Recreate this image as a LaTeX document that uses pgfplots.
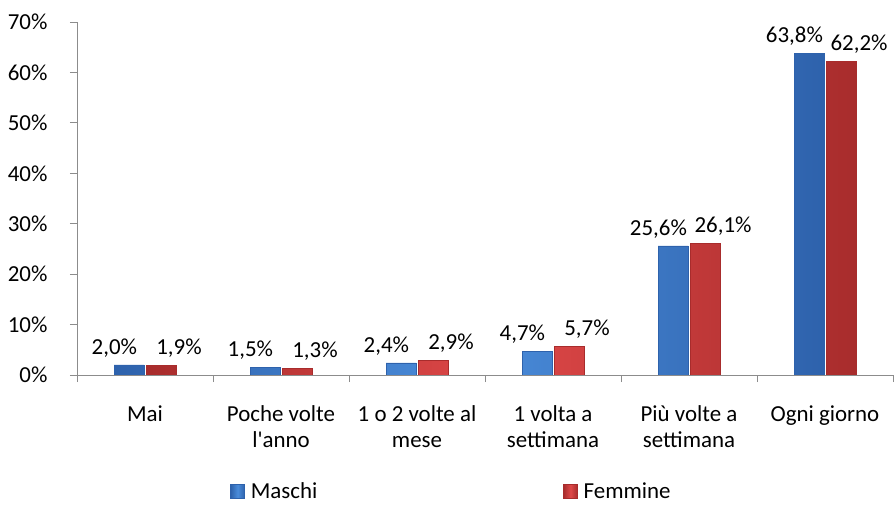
\documentclass[border=0pt]{standalone}
\usepackage{pgfplots}
\usepackage{pgfplotstable}
\pgfplotsset{compat=1.18}
\usepackage{fontspec}
\setmainfont{Carlito}[Ligatures=TeXOff]
\definecolor{bluD}{HTML}{2E62AC}
\definecolor{bluM}{HTML}{4A8CDA}
\definecolor{redD}{HTML}{A82C2C}
\definecolor{redM}{HTML}{DE4848}
\definecolor{axgray}{HTML}{8C8C8C}
\pgfplotsset{/pgf/number format/assume math mode=true}
\pgfplotstableread{
x y
0 2.0
1 1.5
2 2.4
3 4.7
4 25.6
5 63.8
}\maschi
\pgfplotstableread{
x y
0 1.9
1 1.3
2 2.9
3 5.7
4 26.1
5 62.2
}\femmine
\begin{document}
\begin{tikzpicture}[font=\fontsize{23}{27}\selectfont]
\useasboundingbox (0,0) rectangle (894bp,507bp);
\begin{axis}[
  at={(77bp,132bp)}, anchor=south west,
  scale only axis, width=816bp, height=353bp,
  ymin=0, ymax=70, ytick={0,10,...,70},
  xmin=-0.5, xmax=5.5,
  axis lines*=left,
  axis line style={axgray, line width=0.9pt},
  tick style={axgray, line width=0.9pt},
  tick align=outside,
  major tick length=7bp, minor tick length=7bp,
  yticklabel={\pgfmathprintnumber{\tick}\%},
  yticklabel style={xshift=-19bp, font=\fontsize{23}{27}\selectfont},
  xtick={0,...,5},
  xticklabels={Mai,{Poche volte\\l'anno},{1 o 2 volte al\\mese},{1 volta a\\settimana},{Più volte a\\settimana},Ogni giorno},
  xticklabel style={align=center, anchor=north, yshift=-20bp, font=\fontsize{23}{26}\selectfont},
  major x tick style={draw=none},
  minor xtick={-0.5,0.5,...,5.5},
  bar width=30bp,
  legend style={at={(0.459,-0.329)}, anchor=center, draw=none, fill=none,
    legend columns=2, font=\fontsize{23}{27}\selectfont,
    /tikz/every odd column/.append style={column sep=4bp},
    /tikz/every even column/.append style={column sep=244bp}},
  legend image code/.code={\path[#1] (0bp,-7bp) rectangle (14bp,7bp);},
]
\addplot[ybar, bar shift=-16bp, draw=bluD, left color=bluD, right color=bluD, middle color=bluM]
  table[x=x, y=y] {\maschi};
\addlegendentry{Maschi}
\addplot[ybar, bar shift=16bp, draw=redD, left color=redD, right color=redD, middle color=redM]
  table[x=x, y=y] {\femmine};
\addlegendentry{Femmine}
% value labels
\addplot[draw=none, mark=none, forget plot, point meta=y,
  nodes near coords={\pgfmathprintnumber[fixed,fixed zerofill,precision=1,use comma]{\pgfplotspointmeta}\%},
  nodes near coords style={anchor=south, yshift=4bp, text=black, font=\fontsize{23}{27}\selectfont}]
  table[x expr=\thisrow{x}-0.225, y=y] {\maschi};
\addplot[draw=none, mark=none, forget plot, point meta=y,
  nodes near coords={\pgfmathprintnumber[fixed,fixed zerofill,precision=1,use comma]{\pgfplotspointmeta}\%},
  nodes near coords style={anchor=south, yshift=4bp, text=black, font=\fontsize{23}{27}\selectfont}]
  table[x expr=\thisrow{x}+0.25, y=y] {\femmine};
\end{axis}
\end{tikzpicture}
\end{document}
